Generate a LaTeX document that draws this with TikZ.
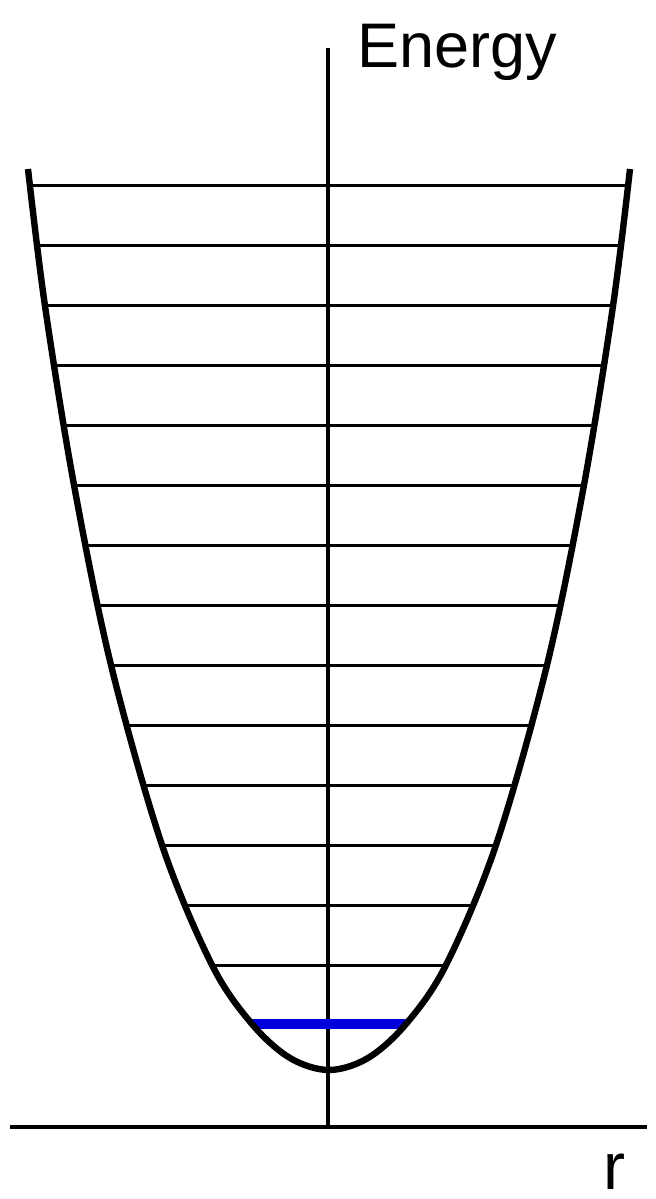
\documentclass[tikz,border=0pt]{standalone}
\usepackage{fontspec}
\setmainfont{Liberation Sans}
\definecolor{levelblue}{RGB}{0,0,220}
\tikzset{
  wellcurve/.style={line width=3.2pt, line cap=butt, line join=round},
  levelline/.style={line width=1.5pt},
  groundlevel/.style={line width=4.8pt, draw=levelblue},
  axisline/.style={line width=1.6pt},
  lbl/.style={inner sep=0pt, anchor=base west, text depth=0pt}
}
\begin{document}
\begin{tikzpicture}[x=0.5pt,y=-0.5pt]
\useasboundingbox (0,0) rectangle (656,1199);
% axes
\coordinate (vtop) at (328,48);
\coordinate (vbot) at (328,1128);
\coordinate (hleft) at (10,1127);
\coordinate (hright) at (647,1127);
\draw[axisline] (vtop) -- (vbot);
\draw[axisline] (hleft) -- (hright);
% energy levels clipped to the well
\begin{scope}
\clip plot[smooth, tension=0.55] coordinates {(28,169) (45,306) (74,485) (111,665) (162,845) (212,965) (252,1024) (290,1058) (329,1070) (368,1058) (406,1024) (446,965) (496,845) (547,665) (584,485) (613,306) (630,169)} -- cycle;
\foreach \k in {0,...,13}{
  \draw[levelline] (0,185+60*\k) -- (656,185+60*\k);
}
\draw[groundlevel] (0,1024) -- (656,1024);
\end{scope}
% potential curve
\draw[wellcurve] plot[smooth, tension=0.55] coordinates {(28,169) (45,306) (74,485) (111,665) (162,845) (212,965) (252,1024) (290,1058) (329,1070) (368,1058) (406,1024) (446,965) (496,845) (547,665) (584,485) (613,306) (630,169)};
% labels
\node[lbl, font=\fontsize{31.5pt}{36pt}\selectfont] (energy) at (357,67) {Energy};
\node[lbl, font=\fontsize{33pt}{38pt}\selectfont] (rlabel) at (603,1189) {r};
\end{tikzpicture}
\end{document}
